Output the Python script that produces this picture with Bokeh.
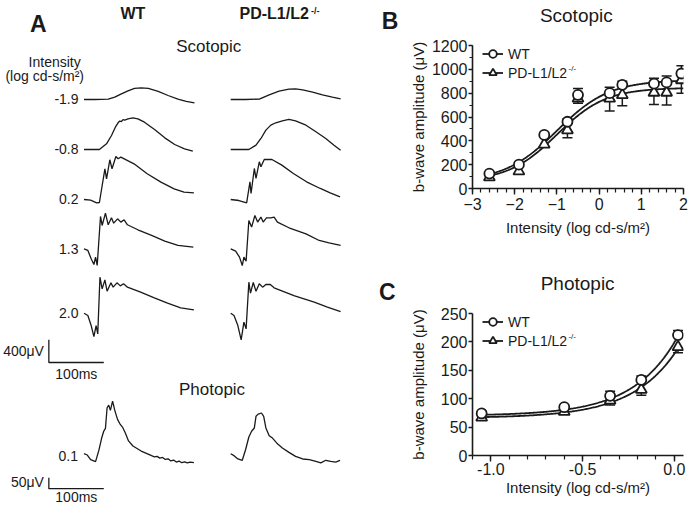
import numpy as np
from bokeh.plotting import figure
from bokeh.models import (Range1d, ColumnDataSource, Whisker, TeeHead, Legend, LegendItem,
                          SingleIntervalTicker, PrintfTickFormatter)
from bokeh.layouts import row, column
from bokeh.core.properties import value
from bokeh.embed import file_html
from bokeh.resources import INLINE

FONT = "Liberation Sans"
INK = "#1a1a1a"

# ---------------- Panel A : ERG traces (time in ms, amplitude in uV) ----------------
row_labels = ["-1.9", "-0.8", "0.2", "1.3", "2.0"]
phot_label = "0.1"

wt19_t = [0, 19, 44, 56, 68, 80, 92, 104, 117, 135, 153, 171, 186, 201]
wt19_v = [0, 0, 6, 41, 100, 153, 194, 205, 194, 141, 70, 6, -35, -59]
wt08_t = [0, 28, 41, 50, 57, 62, 65, 68, 71, 74, 80, 89, 98, 110, 129, 147, 165, 183, 198]
wt08_v = [0, 0, 100, 246, 393, 470, 500, 492, 525, 518, 540, 557, 540, 481, 346, 205, 88, 12, -29]
wt02_t = [0, 12, 23, 28, 38, 41, 47, 51, 58, 62, 67, 91, 115, 140, 164, 182, 200]
wt02_v = [0, -12, -59, -53, 540, 364, 699, 540, 757, 716, 745, 628, 452, 305, 188, 129, 117]
wt13_t = [0, 7, 13, 18, 21, 24, 30, 33, 39, 44, 50, 54, 61, 67, 73, 79, 98, 123, 147, 171, 199]
wt13_v = [0, -29, -176, -276, -147, -293, 569, 411, 628, 423, 546, 452, 528, 470, 511, 423, 335, 235, 135, 59, 29]
wt20_t = [0, 7, 13, 18, 22, 25, 29, 33, 38, 42, 49, 53, 60, 66, 72, 79, 103, 128, 152, 176, 200]
wt20_v = [0, -41, -217, -411, -217, -364, 634, 428, 587, 387, 534, 458, 534, 481, 517, 458, 370, 270, 176, 94, 59]

pd19_t = [0, 27, 52, 70, 88, 106, 118, 131, 149, 167, 185, 200]
pd19_v = [0, 0, 6, 82, 147, 182, 188, 170, 129, 82, 41, 12]
pd08_t = [0, 33, 46, 55, 64, 73, 82, 94, 106, 118, 137, 155, 173, 188, 200]
pd08_v = [0, 0, 76, 194, 340, 428, 470, 505, 528, 505, 428, 311, 194, 76, -12]
pd02_t = [0, 15, 29, 35, 37, 43, 46, 52, 55, 61, 75, 93, 114, 138, 163, 181, 199]
pd02_v = [0, -18, -59, 311, 106, 546, 370, 663, 575, 704, 704, 605, 458, 311, 194, 117, 47]
pd13_t = [0, 9, 16, 21, 24, 28, 33, 38, 44, 49, 55, 59, 65, 73, 79, 85, 106, 137, 161, 179, 200]
pd13_v = [0, -41, -147, -294, -147, -217, 499, 382, 587, 470, 558, 470, 546, 546, 558, 470, 370, 264, 147, 106, 59]
pd20_t = [0, 6, 13, 19, 24, 28, 33, 36, 41, 46, 52, 58, 64, 72, 79, 115, 152, 176, 200]
pd20_v = [0, -41, -217, -470, -158, -276, 546, 352, 540, 387, 517, 458, 505, 505, 446, 311, 194, 106, 29]

wtph_t = [0, 6, 12, 21, 27, 32, 36, 39, 42, 45, 48, 52, 56, 61, 66, 70, 75, 81, 89, 104,
          123, 128, 133, 138, 143, 148, 153, 158, 163, 168, 173, 178, 183, 188, 193, 200]
wtph_v = [0, -6, -27, -36, 15, 70, 103, 115, 209, 221, 197, 239, 197, 156, 133, 121, 95, 58, 35, 12,
          -9, -14, -12, -20, -17, -26, -23, -33, -29, -38, -34, -41, -37, -42, -38, -41]
pdph_t = [0, 6, 13, 21, 27, 33, 38, 43, 46, 50, 56, 60, 64, 70, 76, 84, 94, 106, 118, 131,
          143, 155, 164, 173, 182, 191, 199]
pdph_v = [0, -9, -24, -30, 18, 76, 102, 117, 170, 180, 185, 170, 117, 82, 71, 48, 26, 6, -12, -24,
          -27, -35, -42, -30, -35, -38, -30]

scale_scot_uv = 400
scale_phot_uv = 50
scale_ms = 100

# ---------------- Panel B : scotopic b-wave ----------------
scot_x = [-2.6, -1.9, -1.3, -0.75, -0.5, 0.25, 0.55, 1.3, 1.6, 1.95]
wt_scot = [125, 200, 450, 560, 785, 800, 870, 880, 890, 965]
wt_scot_err = [15, 20, 20, 25, 55, 50, 30, 45, 55, 65]
pd_scot = [95, 145, 370, 490, 755, 755, 785, 805, 805, 910]
pd_scot_err = [15, 25, 20, 65, 40, 105, 90, 100, 105, 110]
# sigmoidal fits: bottom, top, logEC50, hill slope
wt_scot_fit = (60, 910, -1.0, 0.70)
pd_scot_fit = (60, 845, -1.0, 0.75)

# ---------------- Panel C : photopic b-wave ----------------
phot_x = [-1.05, -0.6, -0.35, -0.18, 0.02]
wt_phot = [74, 85, 105, 133, 212]
wt_phot_err = [4, 4, 8, 7, 8]
pd_phot = [67, 77, 97, 116, 191]
pd_phot_err = [4, 4, 8, 10, 10]
# exponential growth fits: plateau, span, rate
wt_phot_fit = (70, 129, 4.17)
pd_phot_fit = (66, 113, 4.09)

# ======================= Panel A figure =======================
pA = figure(width=400, height=506, x_range=Range1d(-152, 576), y_range=Range1d(-8905, 0),
            output_backend="svg", toolbar_location=None, min_border=0)
pA.extra_y_ranges = {"phot": Range1d(-2300, 0)}
pA.axis.visible = False
pA.grid.visible = False
pA.outline_line_color = None

ROW_BASE = [-1742, -2622, -3502, -4370, -5503]
PHOT_BASE = -2060
COL_OFF = [0, 267]
TW = 1.3

wt_tr = [(wt19_t, wt19_v), (wt08_t, wt08_v), (wt02_t, wt02_v), (wt13_t, wt13_v), (wt20_t, wt20_v)]
pd_tr = [(pd19_t, pd19_v), (pd08_t, pd08_v), (pd02_t, pd02_v), (pd13_t, pd13_v), (pd20_t, pd20_v)]
for col, traces in zip(COL_OFF, [wt_tr, pd_tr]):
    for (t, v), base in zip(traces, ROW_BASE):
        pA.line(np.array(t) + col, np.array(v) + base, line_color=INK, line_width=TW)
for col, (t, v) in zip(COL_OFF, [(wtph_t, wtph_v), (pdph_t, pdph_v)]):
    pA.line(np.array(t) + col, np.array(v) + PHOT_BASE, line_color=INK, line_width=TW,
            y_range_name="phot")

# scale bars
SB_X = -64
SB_SCOT_Y = -6371
SB_PHOT_Y = -2219
pA.line([SB_X, SB_X, SB_X + scale_ms], [SB_SCOT_Y + scale_scot_uv, SB_SCOT_Y, SB_SCOT_Y],
        line_color=INK, line_width=1.3)
pA.line([SB_X, SB_X, SB_X + scale_ms], [SB_PHOT_Y + scale_phot_uv, SB_PHOT_Y, SB_PHOT_Y],
        line_color=INK, line_width=1.3, y_range_name="phot")


def txt(p, x, y, t, size, align="center", bold=False):
    p.text(x=[x], y=[y], text=[t], text_font=value(FONT), text_font_size=value(size),
           text_align=align, text_baseline="middle", text_color=INK,
           text_font_style="bold" if bold else "normal")


txt(pA, -83, -414, "A", "23px", bold=True)
txt(pA, 557, -352, "B", "23px", bold=True)
txt(pA, 552, -5122, "C", "23px", bold=True)
txt(pA, 89, -224, "WT", "16px", bold=True)
txt(pA, 283, -224, "PD-L1/L2", "16px", align="left", bold=True)
txt(pA, 413, -176, "-/-", "9px", align="left", bold=True)
txt(pA, 227, -810, "Scotopic", "17px")
txt(pA, 233, -6852, "Photopic", "17px")
txt(pA, -6, -1074, "Intensity", "14px", align="right")
txt(pA, 0, -1320, "(log cd-s/m\u00b2)", "14px", align="right")
for lab, base in zip(row_labels, ROW_BASE):
    txt(pA, -10, base, lab, "14px", align="right")
txt(pA, -11, -8008, phot_label, "14px", align="right")
txt(pA, -73, -6160, "400\u03bcV", "14px", align="right")
txt(pA, -14, -6565, "100ms", "14px")
txt(pA, -73, -8466, "50\u03bcV", "14px", align="right")
txt(pA, -14, -8738, "100ms", "14px")

# ======================= Panels B and C =======================


def title_strip(height, xr, text, cx, cy):
    # frame of this strip lines up with the frame of the panel below it (same x range)
    t = figure(width=290, height=height, x_range=Range1d(*xr), y_range=Range1d(0, height),
               output_backend="svg", toolbar_location=None, min_border=0)
    t.axis.visible = False
    t.grid.visible = False
    t.outline_line_color = None
    txt(t, cx, cy, text, "19px")
    return t


def style_axes(p):
    p.grid.visible = False
    p.outline_line_color = None
    for ax in (p.xaxis[0], p.yaxis[0]):
        ax.axis_line_color = INK
        ax.axis_line_width = 1.6
        ax.major_tick_line_color = INK
        ax.minor_tick_line_color = INK
        ax.major_tick_line_width = 1.4
        ax.minor_tick_line_width = 1.2
        ax.major_tick_in = 0
        ax.minor_tick_in = 0
        ax.major_label_text_font = FONT
        ax.major_label_text_font_size = "16px"
        ax.major_label_text_color = INK
        ax.axis_label_text_font = FONT
        ax.axis_label_text_font_size = "15px"
        ax.axis_label_text_font_style = "normal"
        ax.axis_label_text_color = INK
    p.xaxis.major_tick_out = 6
    p.xaxis.minor_tick_out = 4
    p.yaxis.major_tick_out = 4
    p.yaxis.minor_tick_out = 3
    p.yaxis.major_label_standoff = 1
    p.yaxis.axis_label_standoff = 2


def draw_series(p, x, wt, wt_err, pd, pd_err, fx, fwt, fpd, leg_vy, sup_x, sup_y):
    wl = p.line(fx, fwt, line_color=INK, line_width=1.8)
    pl = p.line(fx, fpd, line_color=INK, line_width=1.8)
    src_w = ColumnDataSource(dict(x=x, lo=wt, hi=[a + e for a, e in zip(wt, wt_err)]))
    src_p = ColumnDataSource(dict(x=x, hi=pd, lo=[a - e for a, e in zip(pd, pd_err)]))
    p.add_layout(Whisker(source=src_w, base="x", lower="lo", upper="hi", line_color=INK,
                         line_width=1.5, lower_head=None,
                         upper_head=TeeHead(size=10, line_color=INK, line_width=1.5)))
    p.add_layout(Whisker(source=src_p, base="x", lower="lo", upper="hi", line_color=INK,
                         line_width=1.5, upper_head=None,
                         lower_head=TeeHead(size=10, line_color=INK, line_width=1.5)))
    pp = p.scatter(x, pd, marker="triangle", size=11, fill_color="white", line_color=INK,
                   line_width=1.8)
    wp = p.scatter(x, wt, marker="circle", size=10, fill_color="white", line_color=INK,
                   line_width=1.8)
    leg = Legend(items=[LegendItem(label="WT", renderers=[wl, wp]),
                        LegendItem(label="PD-L1/L2", renderers=[pl, pp])],
                 location=(10, leg_vy), orientation="vertical", glyph_width=21, glyph_height=19,
                 label_height=19, spacing=0, padding=0, margin=0, label_standoff=5,
                 border_line_color=None, background_fill_alpha=0,
                 label_text_font=FONT, label_text_font_size="14px", label_text_color=INK)
    p.add_layout(leg)
    p.text(x=[sup_x], y=[sup_y], text=["-/-"], text_font=value(FONT),
           text_font_size=value("8px"), text_baseline="middle", text_align="left",
           text_color=INK)


def logistic(x, bottom, top, logec50, hill):
    return bottom + (top - bottom) / (1 + 10 ** ((logec50 - x) * hill))


def expgrowth(x, plateau, span, rate):
    return plateau + span * np.exp(rate * x)


B_XR = (-3, 2)
C_XR = (-1.1, 0.05)

tB = title_strip(30, B_XR, "Scotopic", -0.54, 15)

pB = figure(width=290, height=225, x_range=Range1d(*B_XR), y_range=Range1d(0, 1200),
            output_backend="svg", toolbar_location=None,
            min_border_left=72, min_border_right=7, min_border_top=15, min_border_bottom=67)
style_axes(pB)
pB.xaxis.major_label_standoff = 3
pB.xaxis.axis_label_standoff = 6
pB.xaxis.ticker = SingleIntervalTicker(interval=1, num_minor_ticks=5)
pB.yaxis.ticker = SingleIntervalTicker(interval=200, num_minor_ticks=2)
pB.xaxis.axis_label = "Intensity (log cd-s/m\u00b2)"
pB.yaxis.axis_label = "b-wave amplitude (\u03bcV)"
fxb = np.linspace(scot_x[0], 2.0, 200)
draw_series(pB, scot_x, wt_scot, wt_scot_err, pd_scot, pd_scot_err, fxb,
            logistic(fxb, *wt_scot_fit), logistic(fxb, *pd_scot_fit), 106, -0.725, 1007)

tC = title_strip(45, C_XR, "Photopic", -0.527, 16.7)

pC = figure(width=290, height=206, x_range=Range1d(*C_XR), y_range=Range1d(0, 250),
            output_backend="svg", toolbar_location=None,
            min_border_left=72, min_border_right=7, min_border_top=13, min_border_bottom=51)
style_axes(pC)
pC.xaxis.major_label_standoff = 1
pC.xaxis.axis_label_standoff = 1
pC.xaxis.ticker = SingleIntervalTicker(interval=0.5, num_minor_ticks=5)
pC.xaxis.formatter = PrintfTickFormatter(format="%.1f")
pC.yaxis.ticker = SingleIntervalTicker(interval=50, num_minor_ticks=0)
pC.yaxis.minor_tick_out = 0
pC.xaxis.axis_label = "Intensity (log cd-s/m\u00b2)"
pC.yaxis.axis_label = "b-wave amplitude (\u03bcV)"
pC.yaxis.axis_label_standoff = 11
fxc = np.linspace(phot_x[0], 0.03, 200)
draw_series(pC, phot_x, wt_phot, wt_phot_err, pd_phot, pd_phot_err, fxc,
            expgrowth(fxc, *wt_phot_fit), expgrowth(fxc, *pd_phot_fit), 105, -0.577, 209.5)

layout = row(pA, column(tB, pB, tC, pC))
open("out.html", "w").write(file_html(layout, INLINE))
